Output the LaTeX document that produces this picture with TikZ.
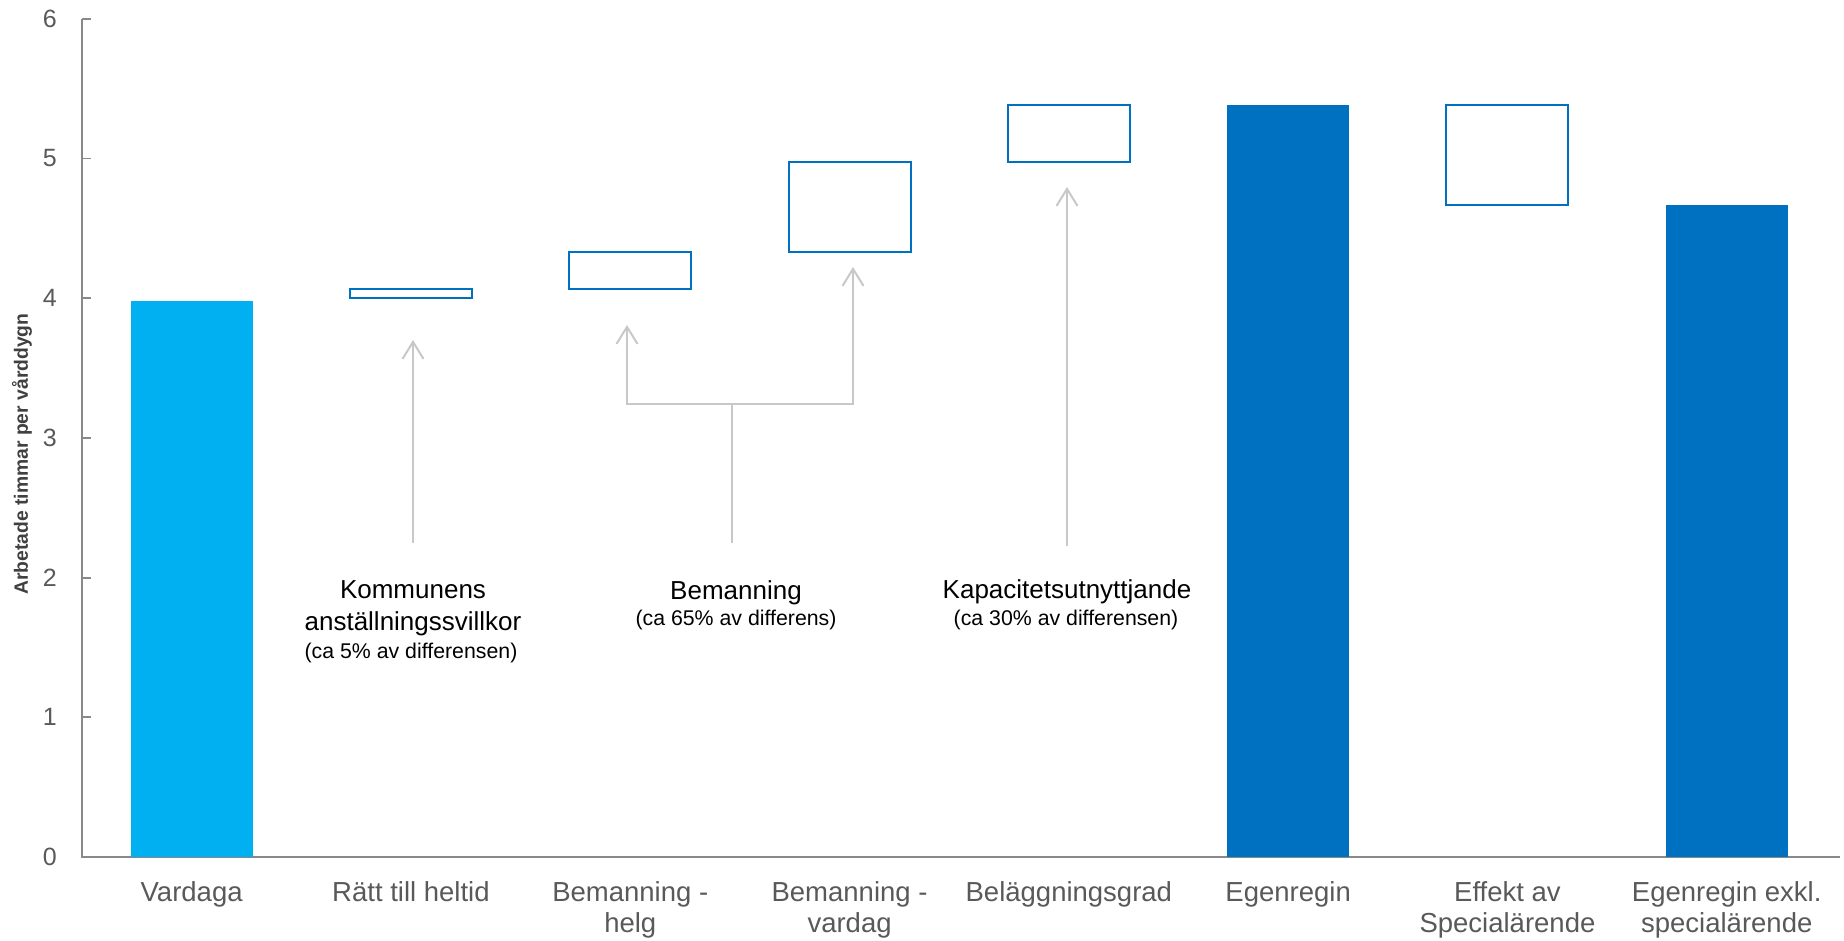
\documentclass[tikz,border=0pt]{standalone}
\usepackage{fontspec}
\setmainfont{Liberation Sans}
\usetikzlibrary{arrows.meta}
\definecolor{lblue}{HTML}{00B0F0}
\definecolor{dblue}{HTML}{0070C0}
\definecolor{axisgray}{HTML}{898989}
\definecolor{labgray}{HTML}{595959}
\definecolor{titlegray}{HTML}{404040}
\definecolor{arrgray}{HTML}{C8C8C8}
\newcommand\mainsz{\fontsize{26pt}{31pt}\selectfont}
\newcommand\subsz{\fontsize{21.3pt}{25pt}\selectfont}
\newcommand\catsz{\fontsize{27.5pt}{31pt}\selectfont}
\newcommand\ticksz{\fontsize{25pt}{30pt}\selectfont}
\begin{document}
\begin{tikzpicture}[x=1pt,y=-1pt,
  bar/.style={rectangle, inner sep=0pt, outer sep=0pt, minimum width=122pt, draw=none},
  wbox/.style={rectangle, inner sep=0pt, outer sep=0pt, minimum width=122pt, draw=dblue, line width=2pt, fill=white},
  axisline/.style={draw=axisgray, line width=1.8pt},
  ticklab/.style={anchor=east, inner sep=0pt, text=labgray, font=\ticksz},
  catlab/.style={anchor=base, inner sep=0pt, text=labgray, font=\catsz},
  annmain/.style={anchor=base, inner sep=0pt, text=black, font=\mainsz},
  annsub/.style={anchor=base, inner sep=0pt, text=black, font=\subsz},
  conn/.style={draw=arrgray, line width=2pt},
  thinconn/.style={draw=arrgray, line width=1.3pt},
  tip/.tip={Straight Barb[length=17pt,width=21pt]}
]
\useasboundingbox (0,0) rectangle (1844,940);

% axes
\coordinate (ytop) at (82,19);
\coordinate (origin) at (82,857);
\coordinate (xend) at (1840,857);
\draw[axisline] (ytop) -- (origin) -- (xend);
\foreach \v in {0,...,6}{
  \draw[axisline] (82,{857-139.7*\v}) -- (91,{857-139.7*\v});
  \node[ticklab] (tick\v) at (57,{857-139.7*\v}) {\v};
}
\node[rotate=90, inner sep=0pt, text=titlegray, font=\bfseries\fontsize{19.3pt}{23pt}\selectfont] (ytitle) at (22,454) {Arbetade timmar per vårddygn};

% bars and boxes
\node[bar, fill=lblue, minimum height=556pt, anchor=south] (vardaga) at (191.65,857) {};
\node[wbox, minimum height=9pt] (ratt) at (410.95,293.5) {};
\node[wbox, minimum height=37pt] (helg) at (630.25,270.5) {};
\node[wbox, minimum height=89.7pt] (vardag) at (849.55,207.15) {};
\node[wbox, minimum height=57.8pt] (belagg) at (1068.85,133.4) {};
\node[bar, fill=dblue, minimum height=752.5pt, anchor=south] (egen) at (1288.15,857) {};
\node[wbox, minimum height=100.3pt] (effekt) at (1507.45,154.85) {};
\node[bar, fill=dblue, minimum height=652pt, anchor=south] (exkl) at (1726.75,857) {};

% category labels
\node[catlab] (c0) at (191.65,901) {Vardaga};
\node[catlab] (c1) at (410.95,901) {Rätt till heltid};
\node[catlab] (c2) at (630.25,901) {\begin{tabular}[t]{@{}c@{}}Bemanning -\\helg\end{tabular}};
\node[catlab] (c3) at (849.55,901) {\begin{tabular}[t]{@{}c@{}}Bemanning -\\vardag\end{tabular}};
\node[catlab] (c4) at (1068.85,901) {Beläggningsgrad};
\node[catlab] (c5) at (1288.15,901) {Egenregin};
\node[catlab] (c6) at (1507.45,901) {\begin{tabular}[t]{@{}c@{}}Effekt av\\Specialärende\end{tabular}};
\node[catlab] (c7) at (1726.75,901) {\begin{tabular}[t]{@{}c@{}}Egenregin exkl.\\specialärende\end{tabular}};

% annotations
\node[annmain] (k1) at (413,598) {Kommunens};
\node[annmain] (k2) at (413,630) {anställningssvillkor};
\node[annsub] (k3) at (411,658) {(ca 5\% av differensen)};
\node[annmain] (b1) at (736,599) {Bemanning};
\node[annsub] (b2) at (736,625) {(ca 65\% av differens)};
\node[annmain] (p1) at (1067,598) {Kapacitetsutnyttjande};
\node[annsub] (p2) at (1066,625) {(ca 30\% av differensen)};

% connectors
\coordinate (a1s) at (413,543);
\coordinate (a1e) at (413,340);
\draw[conn, -tip] (a1s) -- (a1e);

\coordinate (bs) at (732,543);
\coordinate (bj) at (732,404);
\coordinate (blc) at (627,404);
\coordinate (brc) at (853,404);
\coordinate (blt) at (627,325);
\coordinate (brt) at (853,267);
\draw[thinconn] (bs) -- (bj);
\draw[conn, tip-tip, line join=miter] (blt) -- (blc) -- (brc) -- (brt);

\coordinate (a3s) at (1067,546);
\coordinate (a3e) at (1067,187);
\draw[conn, -tip] (a3s) -- (a3e);
\end{tikzpicture}
\end{document}
